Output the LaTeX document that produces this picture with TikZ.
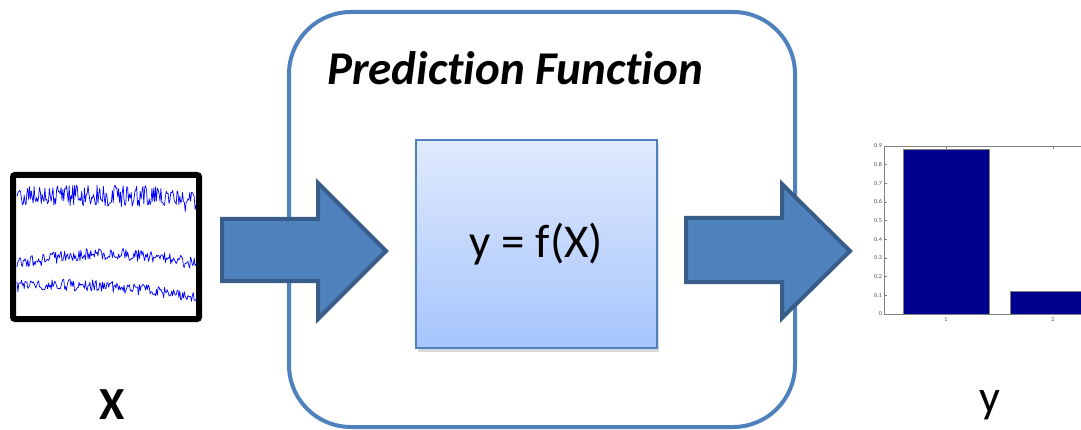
\documentclass[tikz,border=0pt]{standalone}
\usepackage{fontspec}
\setmainfont[Ligatures=NoCommon]{Carlito}
\usetikzlibrary{shadows}

\definecolor{frameblue}{HTML}{4F81BD}
\definecolor{arrowedge}{HTML}{385D8A}
\definecolor{boxtop}{HTML}{E0EAFD}
\definecolor{boxbot}{HTML}{A6C5FD}
\definecolor{barnavy}{HTML}{00008F}

\tikzset{
  blockarrow/.style={fill=frameblue, draw=arrowedge, line width=4pt, line join=miter},
  trace/.style={blue, line width=0.7pt, line join=round},
  ticklabel/.style={font=\fontsize{6}{7}\selectfont, text=black!70, inner sep=1pt}
}

\begin{document}
\begin{tikzpicture}[x=1pt, y=-1pt]

    \useasboundingbox (0,0) rectangle (1081,430);

    % outer frame of the prediction function
    \draw[frameblue, line width=4pt, rounded corners=62pt] (289,12) rectangle (795,427);
    \node[font=\fontsize{47}{56}\selectfont\bfseries\itshape] (title) at (515,68) {Prediction Function};

    % inner box
    \node[draw=frameblue, line width=1.5pt, top color=boxtop, bottom color=boxbot,
          drop shadow={shadow xshift=2pt, shadow yshift=-4pt, opacity=0.3},
          minimum width=241, minimum height=208, font=\fontsize{47}{56}\selectfont]
          (fx) at (536.5,244) {y = f(X)};

    % block arrows
    \draw[blockarrow] (222,219) -- (318,219) -- (318,183) -- (386,251)
        -- (318,319) -- (318,281) -- (222,281) -- cycle;
    \draw[blockarrow] (686,218) -- (782,218) -- (782,184) -- (850,251)
        -- (782,318) -- (782,282) -- (686,282) -- cycle;

    % input signals
    \fill[white] (13,175) rectangle (199,319);
    \pgfmathsetseed{11}
    \draw[trace] plot[domain=17:196, samples=200] (\x, {196 + 11*rand + 5*(\x>175)});
    \draw[trace] plot[domain=17:196, samples=200] (\x, {264 - 10*sin((\x-17)*1.0) + 6*rand});
    \draw[trace] plot[domain=17:196, samples=200] (\x, {286 - 6*sin((\x-17)*0.9) + 0.07*(\x-17) + 6*rand});
    \draw[line width=6pt, rounded corners=2pt] (13,175) rectangle (199,319);
    \node[font=\fontsize{46}{55}\selectfont\bfseries] (xlab) at (112,405) {X};

    % output bar chart
    \fill[barnavy, draw=gray] (903,314) rectangle (989,149.7);
    \fill[barnavy, draw=gray] (1010,314) rectangle (1082,291.6);
    \draw[gray] (1081,146) -- (884,146) -- (884,314) -- (1081,314);
    \foreach \v in {1,...,9}{
        \draw[gray] (884,{314-18.67*\v}) -- (887,{314-18.67*\v});
        \node[ticklabel, left] at (883,{314-18.67*\v}) {0.\v};
    }
    \node[ticklabel, left] at (883,314) {0};
    \draw[gray] (946,146) -- (946,149) (1053,146) -- (1053,149);
    \node[ticklabel, below] at (946,316) {1};
    \node[ticklabel, below] at (1053,316) {2};
    \node[font=\fontsize{46}{55}\selectfont] (ylab) at (990,405) {y};

\end{tikzpicture}
\end{document}
